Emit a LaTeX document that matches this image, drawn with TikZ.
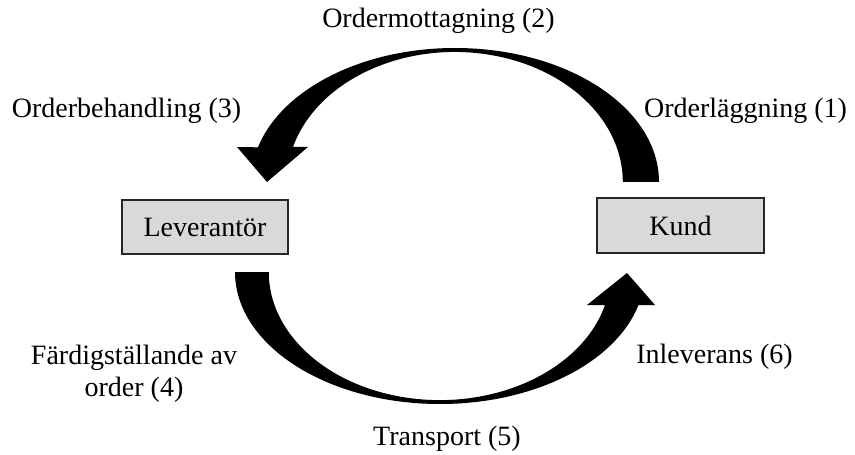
\documentclass[tikz,border=0pt]{standalone}
\usepackage{fontspec}
\setmainfont{Liberation Serif}
\begin{document}
\begin{tikzpicture}[x=0.75pt,y=0.75pt,
  txt/.style={font=\fontsize{21}{24}\selectfont, inner sep=0pt},
  party/.style={draw=black!85, line width=1.1pt, fill=black!15,
    font=\fontsize{21}{24}\selectfont, inner sep=0pt},
  bigarrow/.style={fill=black, draw=none}]
\useasboundingbox (0,0) rectangle (855,454);

% parties
\node[party, minimum width=124.5pt, minimum height=40.5pt] (lev) at (205,227) {Leverantör};
\node[party, minimum width=125.25pt, minimum height=41.25pt] (kund) at (680.5,228.5) {Kund};

% order flow: from customer over the top to supplier
\fill[bigarrow] (659,272) arc[start angle=0, end angle=165, x radius=204, y radius=134]
  -- (237,307) -- (267,272) -- (308,307) -- (293,307)
  arc[start angle=164.4, end angle=0, x radius=168, y radius=130] -- cycle;

% goods flow: from supplier under the bottom to customer
\fill[bigarrow] (235,182) arc[start angle=180, end angle=345.5, x radius=205, y radius=132]
  -- (655,149) -- (627,181) -- (587,149) -- (605,149)
  arc[start angle=345.1, end angle=180, x radius=171, y radius=128] -- cycle;

% step labels
\node[txt, anchor=base] (s1) at (745.5,336) {Orderläggning (1)};
\node[txt, anchor=base] (s2) at (438.5,426) {Ordermottagning (2)};
\node[txt, anchor=base] (s3) at (126.5,336) {Orderbehandling (3)};
\node[txt, align=center] (s4) at (134,80.5) {Färdigställande av\\order (4)};
\node[txt, anchor=base] (s5) at (447,9) {Transport (5)};
\node[txt, anchor=base] (s6) at (714.5,91) {Inleverans (6)};
\end{tikzpicture}
\end{document}
